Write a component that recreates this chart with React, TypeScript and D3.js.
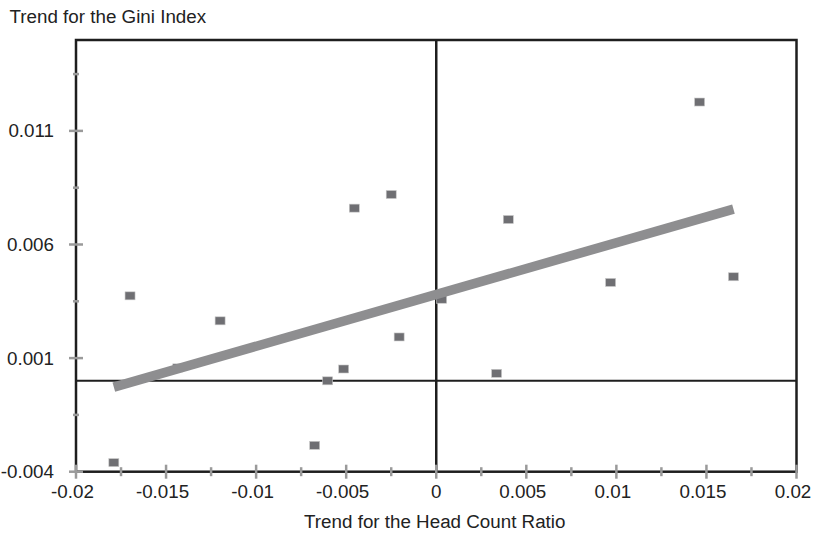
import * as d3 from 'd3'
import React from 'react'

// trend in head count ratio (x) vs trend in gini index (y)
const headCountTrend = [
  -0.0179, -0.017, -0.012, -0.01435, -0.00675, -0.00603, -0.00514, -0.00455,
  -0.0025, -0.00206, 0.0003, 0.00335, 0.004, 0.00968, 0.01462, 0.0165,
]
const giniTrend = [
  -0.0036, 0.00374, 0.00264, 0.00057, -0.00284, 0.0, 0.00052, 0.0076,
  0.0082, 0.00193, 0.00359, 0.00033, 0.0071, 0.00433, 0.01227, 0.00458,
]

// fitted trend line
const trendSlope = 0.2278
const trendIntercept = 0.0038

const xTicks = [-0.02, -0.015, -0.01, -0.005, 0, 0.005, 0.01, 0.015, 0.02]
const xMinorTicks = [-0.0175, -0.0125, -0.0075, -0.0025, 0.0025, 0.0075, 0.0125, 0.0175]
const yTicks = [-0.004, 0.001, 0.006, 0.011]
const yMinorTicks = [-0.0015, 0.0035, 0.0085, 0.0135]

const WIDTH = 818
const HEIGHT = 535
const MARGIN = { top: 40, right: 20, bottom: 63, left: 76 }
const FONT = '"Liberation Sans", Arial, Helvetica, sans-serif'
const FONT_SIZE = 18.8

const fmt = (v: number) => String(+v.toFixed(4))

export default function App() {
  const x = d3
    .scaleLinear()
    .domain([-0.02, 0.02])
    .range([MARGIN.left, WIDTH - MARGIN.right - 1.5])
  const y = d3
    .scaleLinear()
    .domain([-0.004, 0.015])
    .range([HEIGHT - MARGIN.bottom - 0.3, MARGIN.top])

  const points = headCountTrend.map((hx, i) => ({ x: hx, y: giniTrend[i] }))
  const xExtent = d3.extent(headCountTrend) as [number, number]
  const trend = d3
    .line<number>()
    .x(d => x(d))
    .y(d => y(trendIntercept + trendSlope * d))(xExtent)

  const [x0, x1] = x.range()
  const [yBottom, yTop] = y.range()

  return (
    <svg
      width={WIDTH}
      height={HEIGHT}
      style={{ position: 'absolute', left: 0, top: 0, background: '#fff' }}
      fontFamily={FONT}
    >
      <text x={9.5} y={22.5} fontSize={FONT_SIZE} fill="#222">
        Trend for the Gini Index
      </text>

      {/* zero lines */}
      <line x1={x0} x2={x1} y1={y(0)} y2={y(0)} stroke="#1e1e1e" strokeWidth={2} />
      <line x1={x(0)} x2={x(0)} y1={yTop} y2={yBottom} stroke="#1e1e1e" strokeWidth={2.5} />

      {/* frame */}
      <rect
        x={x0}
        y={yTop}
        width={x1 - x0}
        height={yBottom - yTop}
        fill="none"
        stroke="#1e1e1e"
        strokeWidth={2.5}
      />

      {/* y ticks */}
      {yTicks.map(t => (
        <g key={'y' + t}>
          <line x1={x0 - 7} x2={x0 + 7} y1={y(t)} y2={y(t)} stroke="#9a9a9a" strokeWidth={2.5} />
          <text
            x={54}
            y={y(t)}
            dy="0.35em"
            textAnchor="end"
            fontSize={FONT_SIZE}
            fill="#222"
          >
            {fmt(t)}
          </text>
        </g>
      ))}
      {yMinorTicks.map(t => (
        <line key={'ym' + t} x1={x0 - 3} x2={x0 + 3} y1={y(t)} y2={y(t)} stroke="#9a9a9a" strokeWidth={2.5} />
      ))}

      {/* x ticks */}
      {xTicks.map(t => (
        <g key={'x' + t}>
          <line x1={x(t)} x2={x(t)} y1={yBottom - 7} y2={yBottom + 7} stroke="#9a9a9a" strokeWidth={2.5} />
          <text
            x={x(t)}
            dx={t === 0 ? 0 : -3.5}
            y={497.5}
            textAnchor="middle"
            fontSize={FONT_SIZE}
            fill="#222"
          >
            {fmt(t)}
          </text>
        </g>
      ))}
      {xMinorTicks.map(t => (
        <line key={'xm' + t} x1={x(t)} x2={x(t)} y1={yBottom - 4.5} y2={yBottom + 4.5} stroke="#9a9a9a" strokeWidth={2.5} />
      ))}

      {/* points */}
      {points.map((p, i) => (
        <rect
          key={i}
          x={x(p.x) - 5}
          y={y(p.y) - 4}
          width={10}
          height={8}
          fill="#6f6f73"
          stroke="#c8c8c8"
          strokeWidth={0.6}
        />
      ))}

      {/* trend line */}
      <path d={trend ?? ''} fill="none" stroke="#8e8e90" strokeWidth={9.5} strokeLinecap="butt" />

      <text x={x(0)} dx={-1.5} y={528} textAnchor="middle" fontSize={FONT_SIZE} fill="#222">
        Trend for the Head Count Ratio
      </text>
    </svg>
  )
}
